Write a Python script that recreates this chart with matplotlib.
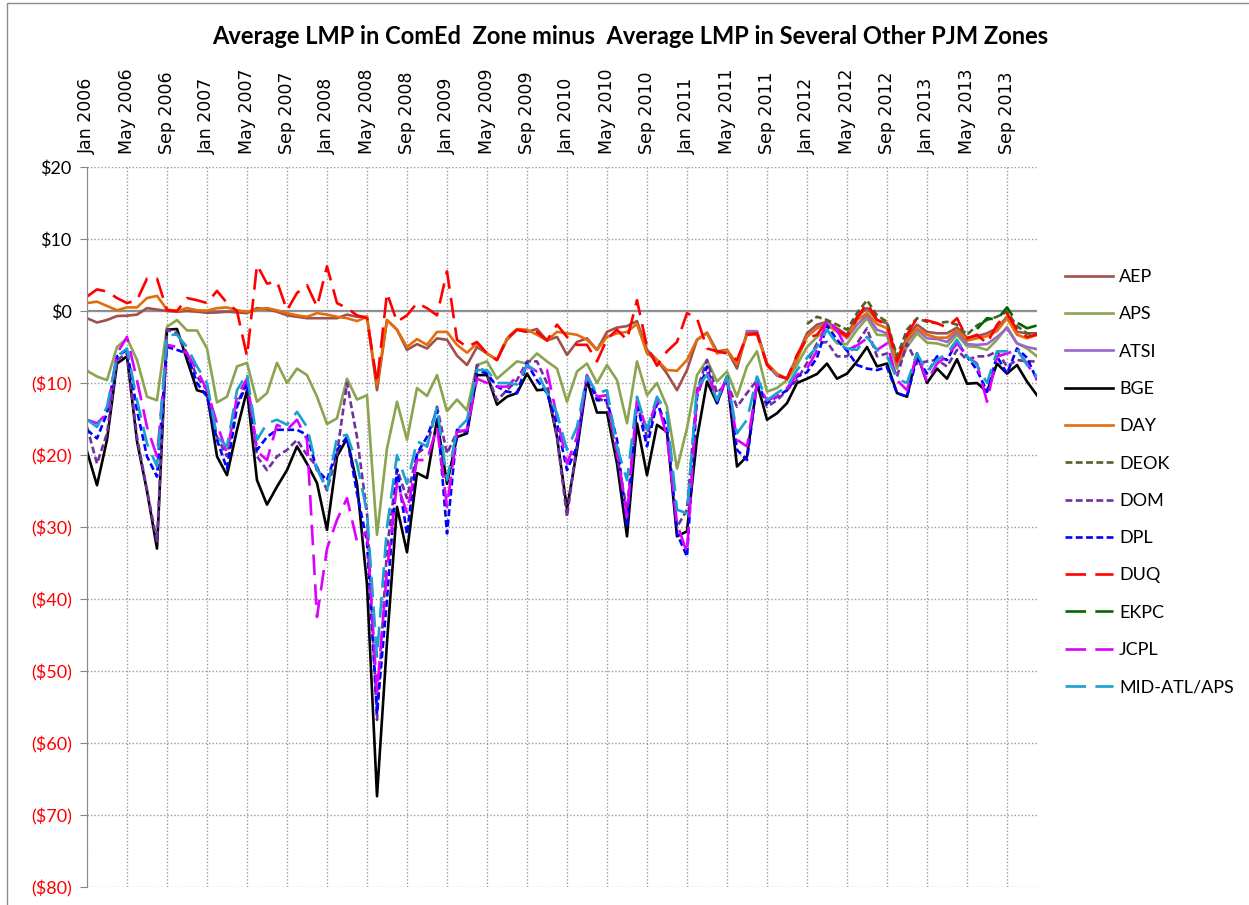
import numpy as np
import pandas as pd
import matplotlib
matplotlib.use("Agg")
import matplotlib.pyplot as plt
from matplotlib.patches import Rectangle

# ---------- Data ($/MWh, ComEd minus zone) ---------- #
months = pd.date_range("2006-01-01", "2013-12-01", freq="MS")

aep = [-1.0, -1.6, -1.25, -0.7, -0.65, -0.5, 0.4, 0.2, 0.0, -0.1, 0.0, -0.1,
       -0.25, -0.2, -0.1, -0.2, -0.3, 0.4, 0.25, -0.1, -0.6, -0.8, -1.0, -1.0,
       -1.0, -1.0, -0.5, -0.8, -0.8, -11.0, -1.25, -2.6, -5.4, -4.6, -5.2, -3.8,
       -4.0, -6.2, -7.5, -5.0, -5.9, -6.8, -4.0, -2.6, -2.9, -2.5, -4.1, -3.6,
       -6.1, -4.3, -3.8, -5.4, -2.9, -2.3, -2.1, -1.4, -5.4, -6.8, -8.7, -11.0,
       -8.2, -4.0, -3.0, -5.6, -5.4, -8.0, -2.9, -2.9, -7.3, -8.9, -9.4, -6.3,
       -3.1, -1.9, -1.5, -2.4, -3.3, -0.8, 0.4, -1.25, -1.7, -6.8, -3.6, -1.9,
       -2.9, -3.1, -3.1, -2.3, -3.7, -3.5, -3.1, -2.4, -0.8, -2.9, -3.1, -3.1]
aps = [-8.3, -9.1, -9.6, -5.0, -3.8, -6.8, -11.9, -12.4, -2.2, -1.25, -2.7, -2.7,
       -5.2, -12.7, -11.9, -7.7, -7.2, -12.6, -11.4, -7.2, -10.0, -8.0, -8.9, -11.9,
       -15.7, -14.9, -9.4, -12.3, -11.7, -31.1, -19.1, -12.6, -17.9, -10.7, -11.8, -8.9,
       -13.9, -12.3, -13.8, -7.5, -7.0, -9.4, -8.2, -7.0, -7.3, -5.9, -7.0, -8.0,
       -12.6, -8.4, -7.3, -10.0, -7.5, -9.6, -15.6, -7.0, -11.7, -10.0, -13.3, -21.9,
       -16.3, -8.9, -6.8, -9.8, -8.4, -11.9, -7.7, -5.6, -11.2, -10.7, -9.6, -7.5,
       -5.0, -3.6, -2.6, -4.5, -4.6, -2.6, -1.0, -3.3, -3.4, -8.0, -5.0, -3.1,
       -4.4, -4.5, -4.9, -3.3, -4.9, -5.0, -5.4, -4.0, -2.2, -4.5, -5.2, -6.3]
atsi = [-2.8, -2.8, -7.5, -9.0, -9.4, -6.5,  # from Jul 2011
        -3.6, -2.3, -1.7, -2.6, -3.8, -1.9, -0.6, -2.6, -3.1, -7.5, -4.3, -2.6,
        -3.8, -3.9, -4.3, -2.9, -4.6, -4.7, -4.6, -3.6, -2.4, -4.5, -5.0, -5.3]
bge = [-19.5, -24.2, -17.9, -7.3, -6.3, -18.1, -25.0, -33.0, -2.6, -2.5, -6.8, -11.0,
       -11.4, -20.2, -22.8, -16.5, -11.0, -23.5, -26.9, -24.4, -22.1, -18.8, -21.2, -23.9,
       -30.4, -20.2, -17.7, -24.0, -38.0, -67.4, -46.0, -27.2, -33.5, -22.5, -23.2, -15.1,
       -24.0, -17.5, -17.0, -8.9, -8.9, -13.0, -11.9, -11.4, -8.7, -11.0, -10.9, -17.5,
       -27.5, -19.3, -9.6, -14.1, -14.1, -21.2, -31.3, -15.6, -22.8, -15.8, -16.8, -31.3,
       -30.6, -17.7, -9.8, -12.8, -9.1, -21.6, -20.2, -10.0, -15.1, -14.2, -12.8, -10.0,
       -9.4, -8.75, -7.3, -9.4, -8.7, -7.0, -5.0, -7.7, -7.3, -11.4, -11.9, -5.9,
       -10.0, -8.0, -9.4, -6.7, -10.1, -10.0, -11.2, -7.3, -8.7, -7.5, -9.8, -11.7]
day = [1.1, 1.3, 0.7, 0.1, 0.5, 0.5, 1.8, 2.1, 0.2, 0.0, 0.4, 0.1,
       0.05, 0.4, 0.5, 0.1, -0.1, 0.2, 0.4, 0.1, -0.3, -0.6, -0.8, -0.3,
       -0.5, -0.8, -1.0, -1.4, -0.8, -10.3, -1.25, -2.6, -5.0, -3.9, -4.7, -2.9,
       -2.9, -4.7, -5.8, -4.5, -5.9, -6.8, -3.8, -2.5, -2.6, -3.3, -4.1, -2.9,
       -3.1, -3.3, -4.0, -5.4, -3.6, -3.1, -2.9, -1.8, -5.9, -6.8, -8.2, -8.3,
       -6.8, -4.0, -3.1, -5.9, -5.4, -7.3, -3.3, -3.3, -7.3, -8.7, -9.4, -6.8,
       -3.5, -2.4, -1.9, -2.9, -3.6, -1.25, -0.3, -1.8, -2.4, -7.3, -4.0, -2.4,
       -3.3, -3.7, -3.7, -2.6, -4.1, -3.8, -3.5, -2.8, -1.0, -3.3, -3.8, -3.3]
deok = [-1.8, -0.8, -1.25, -1.9, -2.6, -0.3, 1.5, -0.6, -1.5, -6.3, -2.6, -1.0,  # from Jan 2012
        -1.5, -1.7, -1.5, -1.9, -3.3, -2.0, -1.25, -0.8, -0.1, -2.1, -3.1, -3.2]
dom = [-16.1, -21.2, -17.0, -6.8, -5.9, -17.5, -24.9, -32.0, -2.6, -3.1, -5.9, -9.1,
       -11.0, -17.5, -20.2, -12.8, -10.0, -20.2, -22.1, -20.2, -19.3, -17.9, -20.0, -21.6,
       -24.9, -19.8, -10.0, -17.5, -28.0, -56.8, -33.0, -22.0, -26.0, -19.8, -18.8, -13.3,
       -19.8, -16.8, -16.5, -7.5, -8.7, -12.4, -11.0, -9.6, -7.0, -7.0, -10.0, -17.5,
       -28.6, -18.4, -8.9, -11.9, -12.8, -20.2, -27.6, -12.8, -17.5, -12.4, -16.8, -30.0,
       -27.6, -11.0, -6.8, -11.4, -10.0, -13.3, -11.4, -9.6, -13.3, -12.4, -11.0, -9.6,
       -7.2, -4.5, -4.3, -6.3, -6.3, -4.5, -2.4, -6.3, -5.9, -9.1, -4.5, -7.3,
       -7.0, -6.8, -7.7, -5.4, -6.8, -6.3, -6.3, -5.6, -7.7, -6.8, -7.0, -7.0]
dpl = [-16.5, -17.7, -14.2, -6.3, -5.4, -13.8, -20.2, -23.0, -5.0, -5.4, -5.9, -10.0,
       -11.9, -17.9, -21.9, -13.3, -10.0, -19.3, -17.5, -16.5, -16.5, -16.5, -17.2, -22.1,
       -23.5, -19.3, -17.5, -25.3, -32.0, -55.8, -40.0, -22.0, -31.0, -19.8, -17.5, -13.8,
       -30.9, -16.5, -16.8, -8.2, -8.7, -10.5, -11.2, -11.4, -7.3, -9.6, -11.4, -15.6,
       -22.1, -18.8, -9.1, -12.4, -12.4, -17.9, -30.0, -12.8, -18.8, -12.8, -16.1, -30.9,
       -34.1, -11.9, -7.7, -12.8, -9.1, -19.3, -20.7, -10.0, -12.8, -11.9, -11.0, -9.1,
       -8.5, -6.5, -2.0, -4.0, -5.5, -7.5, -8.0, -8.2, -7.8, -11.4, -11.9, -6.5,
       -8.7, -6.3, -6.8, -4.3, -6.3, -8.2, -11.2, -6.3, -8.7, -5.2, -6.5, -9.6]
duq = [2.0, 3.0, 2.7, 1.8, 1.1, 1.5, 4.5, 4.5, 0.1, 0.0, 1.8, 1.5,
       1.1, 2.8, 1.1, 0.0, -6.3, 6.4, 3.8, 4.1, 0.1, 2.5, 3.6, 0.6,
       6.2, 1.1, 0.4, -0.6, -1.0, -10.0, 2.5, -1.5, -0.6, 1.1, 0.4, -0.6,
       5.5, -4.0, -5.0, -4.3, -5.9, -6.8, -3.8, -2.6, -2.9, -2.9, -4.1, -1.9,
       -3.6, -4.7, -4.7, -7.0, -3.9, -2.6, -4.0, 1.5, -5.0, -7.6, -5.6, -4.3,
       -0.3, -1.0, -5.2, -5.6, -5.9, -6.8, -3.3, -3.1, -7.5, -8.9, -9.4, -6.1,
       -3.8, -3.3, -1.5, -2.6, -3.5, -1.0, 1.1, -1.25, -1.9, -7.0, -3.3, -1.0,
       -1.3, -1.7, -2.3, -1.0, -3.8, -3.3, -4.5, -1.9, -0.3, -2.6, -3.6, -3.3]
ekpc = [-2.5, -1.0, -1.2, 0.5, -1.6, -2.4, -2.0]  # from Jun 2013
jcpl = [-15.1, -15.6, -14.2, -5.9, -3.6, -9.6, -16.1, -20.2, -4.7, -5.0, -5.9, -8.2,
        -11.0, -15.6, -19.8, -11.9, -9.4, -19.5, -20.7, -15.8, -16.5, -15.1, -17.9, -42.5,
        -33.0, -29.0, -26.0, -32.0, -30.6, -53.0, -36.0, -24.0, -28.0, -20.7, -20.7, -16.1,
        -27.2, -16.8, -16.5, -9.4, -10.0, -10.5, -10.5, -9.1, -7.7, -8.4, -8.2, -14.7,
        -21.2, -17.5, -8.9, -11.9, -11.7, -19.3, -28.6, -12.4, -16.5, -12.4, -17.5, -29.5,
        -33.6, -11.4, -8.4, -12.4, -9.1, -17.9, -18.8, -10.0, -12.4, -11.9, -10.7, -8.9,
        -8.0, -5.5, -1.25, -2.6, -5.4, -4.8, -3.8, -5.4, -4.5, -9.6, -11.0, -5.9,
        -9.8, -7.3, -6.3, -4.5, -6.3, -7.3, -12.6, -6.3, -5.9, -5.4, -7.3, -9.6]
midatl = [-15.1, -16.1, -13.3, -6.3, -5.2, -12.4, -18.4, -21.6, -3.3, -3.3, -5.0, -7.7,
          -10.0, -17.5, -18.8, -11.0, -8.7, -17.9, -15.6, -15.1, -15.8, -14.0, -16.1, -21.9,
          -24.9, -17.5, -17.2, -21.2, -28.0, -48.0, -30.0, -20.0, -24.0, -18.1, -18.8, -13.3,
          -23.5, -16.5, -15.1, -8.2, -8.2, -10.0, -10.0, -10.2, -7.5, -8.4, -11.4, -14.2,
          -19.3, -16.1, -9.1, -11.4, -11.0, -18.8, -23.5, -11.9, -16.5, -11.9, -14.2, -27.6,
          -28.1, -10.5, -8.9, -12.4, -9.1, -17.0, -15.1, -9.1, -12.4, -11.4, -10.5, -8.2,
          -6.5, -5.0, -2.6, -4.5, -5.2, -5.4, -3.6, -5.4, -6.3, -9.4, -10.0, -5.9,
          -8.4, -6.8, -5.9, -4.0, -6.3, -7.5, -10.0, -5.6, -5.6, -5.3, -7.5, -9.1]

y_ticks = [20, 10, 0, -10, -20, -30, -40, -50, -60, -70, -80]


def monthly(values):
    """ Align a zone's values to the end of the month index (late joiners) """
    s = pd.Series(np.nan, index=months)
    s.iloc[len(months) - len(values):] = values
    return s


def money(v):
    return f"(${abs(v)})" if v < 0 else f"${v}"


# ---------- Styles ---------- #
LW = 1.9
SOLID = "-"
SHORT = (0, (2.6, 1.3))
LONG = (0, (7.8, 3.5))

series = [
    ("AEP", aep, "#A0504D", SOLID),
    ("APS", aps, "#8BA44F", SOLID),
    ("ATSI", atsi, "#9966CC", SOLID),
    ("BGE", bge, "#000000", SOLID),
    ("DAY", day, "#E46C0A", SOLID),
    ("DEOK", deok, "#4F6228", SHORT),
    ("DOM", dom, "#7030A0", SHORT),
    ("DPL", dpl, "#0000FF", SHORT),
    ("DUQ", duq, "#FF0000", LONG),
    ("EKPC", ekpc, "#006600", LONG),
    ("JCPL", jcpl, "#DD00FF", LONG),
    ("MID-ATL/APS", midatl, "#1BA1CF", LONG),
]

# ---------- Plot ---------- #
W, H = 1249, 905
fig = plt.figure(figsize=(W / 100, H / 100), dpi=100)
ax = fig.add_axes([87 / W, 1 - 887 / H, (1037 - 87) / W, (887 - 167) / H])

x = np.arange(len(months))
for name, vals, color, ls in series:
    ax.plot(x, monthly(vals).values, color=color, lw=LW, linestyle=ls, label=name)

ax.set_xlim(0, len(months) - 1)
ax.set_ylim(-80, 20)

# x labels every 4 months, on top
xt = x[::4]
ax.xaxis.tick_top()
ax.set_xticks(xt)
ax.set_xticklabels([m.strftime("%b %Y") for m in months[::4]], rotation=90,
                   fontsize=12.5, family="DejaVu Sans")
ax.tick_params(axis="x", length=0, pad=9)

ax.set_yticks(y_ticks)
ax.set_yticklabels([money(v) for v in y_ticks], fontsize=13, family="Lato")
for lbl, v in zip(ax.get_yticklabels(), y_ticks):
    lbl.set_color("#FF0000" if v < 0 else "#000000")
ax.tick_params(axis="y", length=5, color="#888888", pad=6)

ax.grid(True, linestyle=(0, (1, 1.5)), color="#9A9A9A", lw=1)
ax.axhline(0, color="#8C8C8C", lw=1.6, zorder=1)
for s in ["top", "right", "bottom"]:
    ax.spines[s].set_visible(False)
ax.spines["left"].set_color("#888888")

fig.text(0.5 * (215 + 1045) / W, 1 - 37 / H,
         "Average LMP in ComEd  Zone minus  Average LMP in Several Other PJM Zones",
         ha="center", va="center", fontsize=17, fontweight="bold", family="Lato")

fig.legend(loc="upper left", bbox_to_anchor=(1065 / W, 1 - 269 / H), frameon=False,
           prop={"family": "Lato", "size": 13}, handlelength=2.65, handletextpad=0.35,
           labelspacing=1.18, borderpad=0, borderaxespad=0)

# chart area border
fig.patches.append(Rectangle((7 / W, -0.01), 1.0, 1 - 3 / H + 0.01, transform=fig.transFigure,
                             fill=False, edgecolor="#8C8C8C", lw=1))

fig.savefig("out.png", dpi=100)
